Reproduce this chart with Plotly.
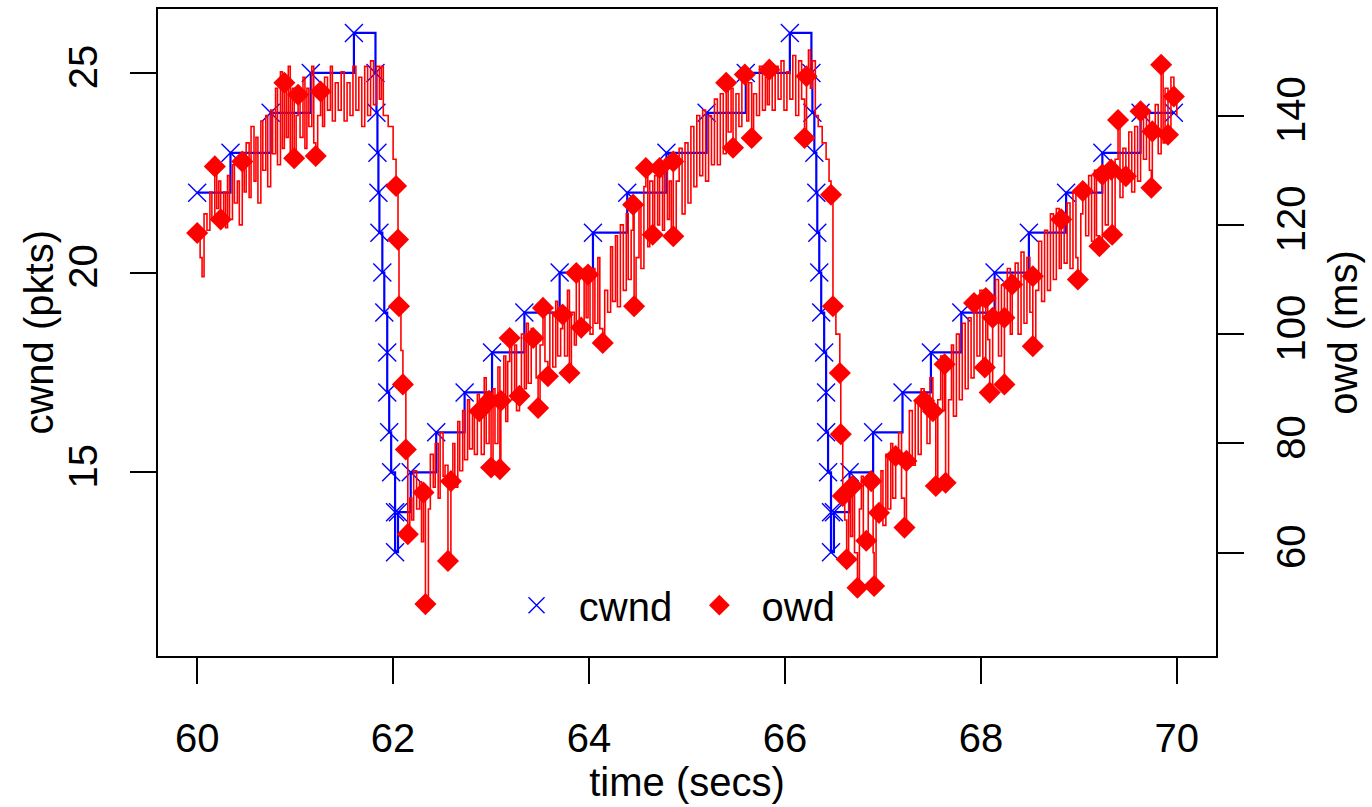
import plotly.graph_objects as go

# ---- cwnd (pkts) : step series with a marker at every change ----
cwnd_t = [60.00, 60.34, 60.75, 61.16, 61.60, 61.82, 61.83, 61.84, 61.85, 61.86,
          61.89, 61.91, 61.94, 61.94, 61.96, 61.98, 62.02, 62.02, 62.05, 62.18,
          62.44, 62.73, 63.01, 63.34, 63.70, 64.04, 64.39, 64.79, 65.20, 65.60,
          66.05, 66.27, 66.28, 66.30, 66.32, 66.33, 66.35, 66.37, 66.40, 66.42,
          66.42, 66.44, 66.47, 66.47, 66.50, 66.66, 66.90, 67.20, 67.49, 67.80,
          68.14, 68.49, 68.87, 69.24, 69.63, 69.97]
cwnd_v = [22, 23, 24, 25, 26, 25, 24, 23, 22, 21,
          20, 19, 18, 17, 16, 15, 14, 13, 14, 15,
          16, 17, 18, 19, 20, 21, 22, 23, 24, 25,
          26, 25, 24, 23, 22, 21, 20, 19, 18, 17,
          16, 15, 14, 13, 14, 15, 16, 17, 18, 19,
          20, 21, 22, 23, 24, 24]

# ---- owd (ms) : jagged trace ----
owd_line_t = [
    60.00, 60.03, 60.05, 60.07, 60.10, 60.13, 60.15, 60.18, 60.20, 60.22,
    60.24, 60.27, 60.29, 60.31, 60.33, 60.36, 60.38, 60.41, 60.43, 60.46,
    60.48, 60.50, 60.53, 60.55, 60.58, 60.60, 60.62, 60.65, 60.67, 60.70,
    60.72, 60.75, 60.77, 60.80, 60.82, 60.85, 60.87, 60.89, 60.91, 60.93,
    60.95, 60.97, 60.99, 61.01, 61.03, 61.05, 61.08, 61.10, 61.12, 61.14,
    61.17, 61.19, 61.21, 61.23, 61.26, 61.28, 61.30, 61.33, 61.36, 61.38,
    61.41, 61.44, 61.47, 61.50, 61.53, 61.56, 61.59, 61.62, 61.65, 61.68,
    61.71, 61.74, 61.77, 61.80, 61.83, 61.86, 61.88, 61.90, 61.95, 62.00,
    62.03, 62.05, 62.06, 62.08, 62.10, 62.13, 62.15, 62.17, 62.19, 62.21,
    62.24, 62.27, 62.29, 62.31, 62.33, 62.36, 62.38, 62.41, 62.43, 62.46,
    62.48, 62.51, 62.53, 62.56, 62.59, 62.61, 62.63, 62.66, 62.68, 62.71,
    62.73, 62.76, 62.78, 62.81, 62.83, 62.86, 62.88, 62.90, 62.93, 62.95,
    62.98, 63.00, 63.02, 63.04, 63.07, 63.09, 63.10, 63.13, 63.15, 63.17,
    63.19, 63.21, 63.24, 63.26, 63.29, 63.31, 63.34, 63.36, 63.38, 63.41,
    63.43, 63.46, 63.48, 63.50, 63.53, 63.55, 63.58, 63.60, 63.63, 63.66,
    63.68, 63.71, 63.73, 63.75, 63.78, 63.80, 63.82, 63.85, 63.87, 63.90,
    63.92, 63.95, 63.97, 63.99, 64.01, 64.04, 64.06, 64.09, 64.11, 64.14,
    64.16, 64.19, 64.22, 64.24, 64.27, 64.29, 64.32, 64.35, 64.38, 64.40,
    64.43, 64.45, 64.46, 64.48, 64.51, 64.53, 64.56, 64.58, 64.60, 64.62,
    64.65, 64.67, 64.70, 64.72, 64.75, 64.77, 64.80, 64.82, 64.84, 64.86,
    64.86, 64.89, 64.92, 64.95, 64.98, 65.01, 65.04, 65.07, 65.10, 65.13,
    65.16, 65.19, 65.22, 65.25, 65.28, 65.31, 65.34, 65.37, 65.40, 65.42,
    65.45, 65.47, 65.50, 65.53, 65.56, 65.59, 65.61, 65.63, 65.66, 65.68,
    65.71, 65.74, 65.77, 65.80, 65.82, 65.84, 65.87, 65.90, 65.93, 65.96,
    65.99, 66.02, 66.05, 66.08, 66.11, 66.14, 66.17, 66.20, 66.22, 66.24,
    66.26, 66.28, 66.31, 66.34, 66.38, 66.42, 66.45, 66.47, 66.49, 66.52,
    66.56, 66.57, 66.59, 66.61, 66.63, 66.65, 66.67, 66.69, 66.71, 66.74,
    66.76, 66.78, 66.80, 66.83, 66.85, 66.88, 66.90, 66.91, 66.93, 66.96,
    66.98, 67.00, 67.03, 67.05, 67.08, 67.10, 67.13, 67.16, 67.19, 67.22,
    67.24, 67.27, 67.30, 67.33, 67.36, 67.39, 67.42, 67.45, 67.48, 67.51,
    67.54, 67.56, 67.59, 67.61, 67.63, 67.64, 67.67, 67.70, 67.72, 67.75,
    67.78, 67.81, 67.84, 67.87, 67.90, 67.93, 67.96, 67.99, 68.02, 68.04,
    68.05, 68.07, 68.09, 68.12, 68.15, 68.18, 68.21, 68.24, 68.24, 68.27,
    68.30, 68.32, 68.35, 68.38, 68.41, 68.44, 68.47, 68.50, 68.53, 68.53,
    68.56, 68.59, 68.62, 68.65, 68.68, 68.71, 68.74, 68.77, 68.80, 68.82,
    68.85, 68.88, 68.91, 68.94, 68.97, 68.99, 69.02, 69.04, 69.07, 69.10,
    69.13, 69.16, 69.18, 69.21, 69.24, 69.27, 69.30, 69.33, 69.34, 69.37,
    69.40, 69.42, 69.45, 69.48, 69.51, 69.54, 69.57, 69.60, 69.63, 69.66,
    69.69, 69.72, 69.74, 69.75, 69.78, 69.81, 69.84, 69.86, 69.88, 69.91,
    69.94, 69.97, 70.00]
owd_line_v = [
    118.5, 114, 110.5, 122, 119, 126, 121, 130.7, 123, 128,
    121.0, 126, 119.5, 129, 121, 131, 124, 128, 120, 131.6,
    126, 135, 125, 138, 128, 136, 124, 139, 130, 140,
    127, 141, 133, 145, 131, 148, 134, 146.0, 136, 149,
    133, 145, 132.2, 140, 143.8, 136, 147, 134, 145, 138,
    149, 135, 132.6, 140, 144.4, 138, 147, 141, 149, 139,
    146, 141, 148, 139, 146, 140, 149, 141, 147, 138,
    149, 140, 150, 142, 149, 143, 149, 140, 138, 132,
    127.1, 117.3, 105.1, 97, 90.8, 78.9, 63.4, 70, 66, 75,
    68, 73, 62, 71.0, 50.6, 68, 78, 72, 80, 70,
    82, 74, 76, 58.5, 73.1, 80, 72, 84, 75, 86,
    77, 88, 79, 86, 78, 89, 85.9, 78, 92, 80,
    87.8, 75.6, 90, 80, 94, 75.3, 87.8, 96, 84, 95,
    99.3, 88, 98, 86, 88.7, 100, 90, 102, 91, 101,
    99.3, 92, 86.5, 98, 104.8, 95, 92.3, 104, 94, 106,
    96, 101, 103.6, 96, 108, 92.9, 104, 98, 111.2, 100,
    101.2, 112, 103, 110.9, 100, 112, 102, 114, 101, 98.4,
    108, 104, 116, 106, 118, 105, 120, 108, 122, 110,
    119, 123.7, 105.1, 114, 124, 112, 127, 130.4, 116, 128,
    118.2, 129, 120, 130.4, 119, 132, 121, 128, 117, 131.6,
    117.9, 128, 134, 122, 135, 124, 138, 127, 140, 129,
    141, 128, 140, 131, 143, 131, 144, 133, 146.0, 137,
    145, 134.1, 144, 138, 148, 147.5, 139, 146, 135.9, 144,
    140, 149, 141, 147, 142, 148.4, 141, 149, 143, 150,
    141, 148, 143, 151, 140, 150, 143, 135.9, 147.2, 152,
    145, 150, 140, 138, 135, 132, 128, 125.5, 105.1, 100,
    92.9, 81.7, 70.4, 66, 58.8, 70, 63, 72.2, 60, 53.6,
    68, 74, 62, 62.2, 72, 73.1, 60, 53.9, 66, 67.3,
    75, 65, 78, 68, 80, 70, 77.7, 82, 70, 64.6,
    76.8, 86, 76, 88, 78, 90, 87.8, 80, 92, 85.9,
    72.2, 88, 96, 86, 94.5, 72.8, 88, 98, 85, 100,
    88, 102, 90, 103, 92, 105.7, 96, 108, 95, 93.9,
    106.6, 99, 89.3, 103.0, 110, 96, 109, 90.8, 103.0, 112,
    100, 109.1, 113, 100, 115, 102, 114, 104, 110.6, 97.8,
    108, 117, 106, 119, 108, 122, 110, 123, 112, 121.0,
    113, 124, 112, 126, 114, 110.0, 122, 126.2, 118, 129,
    117, 130, 118, 116.1, 129.2, 120, 131, 130.1, 118.2, 132,
    139.2, 125, 134, 128.9, 137, 126, 138, 128, 140.8, 132,
    141, 130, 126.8, 137.1, 142, 133, 149.3, 135, 145, 136.5,
    147, 143.5, 140]

# ---- owd sample points drawn with diamonds ----
owd_pts_t = [60.00, 60.18, 60.24, 60.46, 60.89, 60.99, 61.03, 61.21, 61.26, 62.03,
             62.05, 62.06, 62.10, 62.13, 62.15, 62.31, 62.33, 62.56, 62.59, 62.88,
             62.98, 63.00, 63.09, 63.10, 63.19, 63.29, 63.43, 63.48, 63.53, 63.58,
             63.73, 63.80, 63.87, 63.92, 63.99, 64.14, 64.45, 64.46, 64.58, 64.65,
             64.72, 64.86, 64.86, 65.40, 65.47, 65.59, 65.66, 65.84, 66.20, 66.22,
             66.47, 66.49, 66.56, 66.57, 66.59, 66.63, 66.69, 66.74, 66.83, 66.88,
             66.91, 66.96, 67.13, 67.22, 67.24, 67.42, 67.51, 67.54, 67.63, 67.64,
             67.93, 68.04, 68.05, 68.09, 68.12, 68.24, 68.24, 68.32, 68.53, 68.53,
             68.82, 68.99, 69.04, 69.21, 69.24, 69.33, 69.34, 69.40, 69.48, 69.63,
             69.74, 69.75, 69.84, 69.91, 69.97]
owd_pts_v = [118.5, 130.7, 121.0, 131.6, 146.0, 132.2, 143.8, 132.6, 144.4, 127.1,
             117.3, 105.1, 90.8, 78.9, 63.4, 71.0, 50.6, 58.5, 73.1, 85.9,
             87.8, 75.6, 75.3, 87.8, 99.3, 88.7, 99.3, 86.5, 104.8, 92.3,
             103.6, 92.9, 111.2, 101.2, 110.9, 98.4, 123.7, 105.1, 130.4, 118.2,
             130.4, 131.6, 117.9, 146.0, 134.1, 147.5, 135.9, 148.4, 135.9, 147.2,
             125.5, 105.1, 92.9, 81.7, 70.4, 58.8, 72.2, 53.6, 62.2, 73.1,
             53.9, 67.3, 77.7, 64.6, 76.8, 87.8, 85.9, 72.2, 94.5, 72.8,
             105.7, 93.9, 106.6, 89.3, 103.0, 90.8, 103.0, 109.1, 110.6, 97.8,
             121.0, 110.0, 126.2, 116.1, 129.2, 130.1, 118.2, 139.2, 128.9, 140.8,
             126.8, 137.1, 149.3, 136.5, 143.5]

x_ticks = [60, 62, 64, 66, 68, 70]
y_ticks = [15, 20, 25]
y2_ticks = [60, 80, 100, 120, 140]

BLUE = "#0000FF"
RED = "#FF0000"
FONT = "Liberation Sans, Arial, Helvetica, sans-serif"
NB = "\u00a0"

X_MARK = dict(symbol="x-thin-open", size=18, color=BLUE,
              line=dict(color=BLUE, width=1.4))
D_MARK = dict(symbol="diamond", size=17, color=RED, line=dict(width=0))

fig = go.Figure()
fig.add_trace(go.Scatter(
    x=cwnd_t, y=cwnd_v, mode="lines+markers", name="cwnd", showlegend=False,
    line=dict(color=BLUE, width=2.2, shape="hv"), marker=X_MARK,
))
fig.add_trace(go.Scatter(
    x=owd_line_t, y=owd_line_v, mode="lines", yaxis="y2", showlegend=False,
    line=dict(color=RED, width=1.6, shape="hv"),
))
fig.add_trace(go.Scatter(
    x=owd_pts_t, y=owd_pts_v, mode="markers", yaxis="y2", name="owd",
    showlegend=False, marker=D_MARK,
))
# legend entries (marker symbols only, as in the original key)
fig.add_trace(go.Scatter(x=[None], y=[None], mode="markers",
                         name=NB + NB + "cwnd" + NB + NB, marker=X_MARK))
fig.add_trace(go.Scatter(x=[None], y=[None], mode="markers", yaxis="y2",
                         name=NB + NB + "owd", marker=D_MARK))

axis_common = dict(
    ticks="outside", ticklen=26, tickwidth=1.5, tickcolor="black",
    showline=True, linecolor="black", linewidth=1.5,
    showgrid=False, zeroline=False,
    tickfont=dict(family=FONT, size=40, color="black"),
)

fig.update_layout(
    width=1372, height=807,
    margin=dict(l=158, r=156, t=7, b=151),
    paper_bgcolor="white", plot_bgcolor="white",
    font=dict(family=FONT, size=40, color="black"),
    xaxis=dict(range=[59.6, 70.4], tickvals=x_ticks, mirror=True,
               ticklabelstandoff=20,
               title=dict(text="time (secs)", standoff=5,
                          font=dict(family=FONT, size=40)),
               **axis_common),
    yaxis=dict(range=[10.4, 26.6], tickvals=y_ticks, tickangle=-90,
               ticklabelstandoff=17, **axis_common),
    yaxis2=dict(range=[41.1, 159.5], tickvals=y2_ticks, tickangle=-90,
                overlaying="y", side="right", ticklabelstandoff=13,
                title=dict(text="owd (ms)", standoff=17,
                           font=dict(family=FONT, size=40)),
                **axis_common),
    annotations=[dict(text="cwnd (pkts)", textangle=-90, showarrow=False,
                      xref="paper", yref="paper", x=-0.1134, y=0.5,
                      xanchor="center", yanchor="middle",
                      font=dict(family=FONT, size=40, color="black"))],
    legend=dict(orientation="h", x=0.492, y=0.0786, xanchor="center",
                yanchor="middle", bgcolor="rgba(0,0,0,0)",
                itemsizing="trace",
                font=dict(family=FONT, size=40, color="black")),
    showlegend=True,
)

fig.write_html("out.html", config={"displayModeBar": False},
               post_script="document.body.style.margin='0';document.body.style.overflow='hidden';")
